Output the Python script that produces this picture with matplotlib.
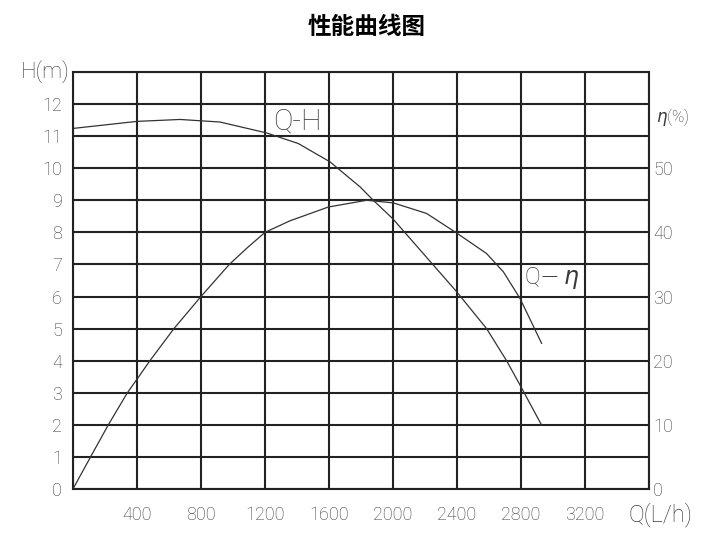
import matplotlib
matplotlib.use("Agg")
import matplotlib.pyplot as plt
import numpy as np

plt.rcParams['font.family'] = ['DejaVu Sans Condensed', 'Roboto', 'DejaVu Sans']
plt.rcParams['font.weight'] = 'light'

# Q-H curve (Q in L/h, H in m)
qh_q = [0, 400, 669, 919, 1210, 1408, 1606, 1794, 1877, 1998, 2398, 2585, 2710, 2794, 2929]
qh_h = [11.24, 11.46, 11.52, 11.44, 11.1, 10.77, 10.2, 9.42, 9.0, 8.43, 6.15, 5.0, 4.0, 3.24, 1.99]

# Q-eta curve (Q in L/h, efficiency in %)
qe_q = [0, 110, 221, 340, 400, 481, 631, 800, 977, 1085, 1200, 1356, 1596, 1835, 2002, 2210, 2398, 2585, 2690, 2794, 2929]
qe_eta = [0, 5, 10, 15, 17.1, 20, 25, 30, 35, 37.5, 40, 41.8, 43.95, 45, 44.6, 42.95, 39.9, 36.7, 33.85, 29.7, 22.7]

x_ticks = list(range(0, 3601, 400))
x_labels = ['' if (v == 0 or v == 3600) else str(v) for v in x_ticks]
h_ticks = list(range(0, 14))
h_labels = [str(v) if v <= 12 else '' for v in h_ticks]
eta_ticks = [0, 10, 20, 30, 40, 50]

grid_c = '#222222'
text_c = '#3a3a3a'
line_c = '#333333'

fig = plt.figure(figsize=(7.21, 5.38), dpi=100)
ax = fig.add_axes([0.1012, 0.0911, 0.7989, 0.7751])
ax.set_xlim(0, 3600)
ax.set_ylim(0, 13)
ax.set_xticks(x_ticks)
ax.set_xticklabels(x_labels)
ax.set_yticks(h_ticks)
ax.set_yticklabels(h_labels)
ax.grid(True, color=grid_c, linewidth=1.5)
ax.tick_params(axis='both', length=0, labelsize=13, colors=text_c)
ax.tick_params(axis='x', pad=12)
ax.tick_params(axis='y', pad=8)
for s in ax.spines.values():
    s.set_color(grid_c)
    s.set_linewidth(1.5)

ax2 = ax.twinx()
ax2.set_ylim(0, 65)
ax2.set_yticks(eta_ticks)
ax2.tick_params(axis='y', length=0, labelsize=13, colors=text_c, pad=3)
for s in ax2.spines.values():
    s.set_visible(False)

ax.plot(qh_q, qh_h, color=line_c, linewidth=0.9)
ax2.plot(qe_q, qe_eta, color=line_c, linewidth=0.9)

ax.text(1400, 11.46, 'Q-H', fontsize=21, color=text_c, ha='center', va='center')
ax2.text(2994, 32.9, r'Q$-\,\eta$', fontsize=17, color=text_c, ha='center', va='center')

fig.text(45 / 721, 1 - 72 / 538, 'H(m)', fontsize=16, color=text_c, ha='center', va='center')
fig.text(673 / 721, 1 - 117 / 538, r'$\eta$(%)', fontsize=12, color=text_c, ha='center', va='center')
fig.text(660 / 721, 1 - 515 / 538, 'Q(L/h)', fontsize=17, color=text_c, ha='center', va='center')
fig.text(367 / 721, 1 - 27 / 538, '性能曲线图', fontsize=17, fontweight='bold',
         family=['Noto Sans CJK SC', 'DejaVu Sans'], ha='center', va='center', color='black')

fig.savefig('out.png', dpi=100)
